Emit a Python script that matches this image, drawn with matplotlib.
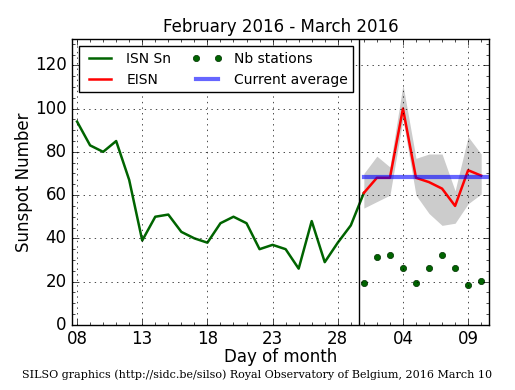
import matplotlib
matplotlib.use("Agg")
import matplotlib.pyplot as plt
from matplotlib.ticker import MultipleLocator

# days from Feb 8 2016 (index 0) to Mar 10 2016 (index 31)
tick_pos = [0, 5, 10, 15, 20, 25, 30]
tick_labels = ["08", "13", "18", "23", "28", "04", "09"]

# ISN Sn, Feb 8 .. Mar 1
isn = [94, 83, 80, 85, 67, 39, 50, 51, 43, 40, 38, 47, 50, 47, 35, 37,
       35, 26, 48, 29, 38, 46, 61]
# EISN and its spread, Mar 1 .. Mar 10
eisn = [61, 68, 68, 100, 68, 66, 63, 55, 71.5, 69]
eisn_hi = [70, 78, 73, 111, 77, 79, 79, 62, 87, 79]
eisn_lo = [54, 57, 60, 95, 60, 51.5, 46, 47, 56, 60.5]
nb_stations = [19.5, 31.5, 32.5, 26.5, 19.5, 26.5, 32.5, 26.5, 18.5, 20.5]
current_avg = 68.5
split_day = 21.6

isn_x = list(range(len(isn)))
e_x = [22 + i for i in range(len(eisn))]

plt.style.use("classic")
fig = plt.figure(figsize=(5.15, 3.9), dpi=100, facecolor="white")
ax = fig.add_axes([0.140, 0.167, 0.8095, 0.732])

ax.fill_between(e_x, eisn_lo, eisn_hi, color="0.8", linewidth=0)
ax.plot(isn_x, isn, color="#006400", lw=1.8, label="ISN Sn")
ax.plot(e_x, eisn, color="red", lw=1.8, label="EISN")
ax.plot(e_x, nb_stations, "o", color="#006400", markeredgecolor="#003000",
        markersize=4.5, label="Nb stations")
ax.plot([22, 33], [current_avg, current_avg], color="blue", alpha=0.6, lw=3,
        label="Current average")
ax.axvline(split_day, color="black", lw=1)

ax.set_xlim(-0.38, 31.6)
ax.set_ylim(0, 132)
ax.set_xticks(tick_pos)
ax.set_xticklabels(tick_labels)
ax.xaxis.set_minor_locator(MultipleLocator(1))
ax.yaxis.set_major_locator(MultipleLocator(20))
ax.yaxis.set_minor_locator(MultipleLocator(5))
ax.tick_params(labelsize=12)
ax.grid(True, which="major", linestyle=":", color="black")

ax.set_title("February 2016 - March 2016", fontsize=12)
ax.set_xlabel("Day of month", fontsize=12, labelpad=0)
ax.set_ylabel("Sunspot Number", fontsize=12, labelpad=1)

ax.legend(loc="upper left", ncol=2, fontsize=10, numpoints=2,
          handlelength=2.2, borderaxespad=0.5, columnspacing=1.5)

fig.text(0.5, 0.03,
         "SILSO graphics (http://sidc.be/silso) Royal Observatory of Belgium, 2016 March 10",
         ha="center", fontsize=8, family="DejaVu Serif")

plt.savefig("out.png", dpi=100, facecolor="white")
